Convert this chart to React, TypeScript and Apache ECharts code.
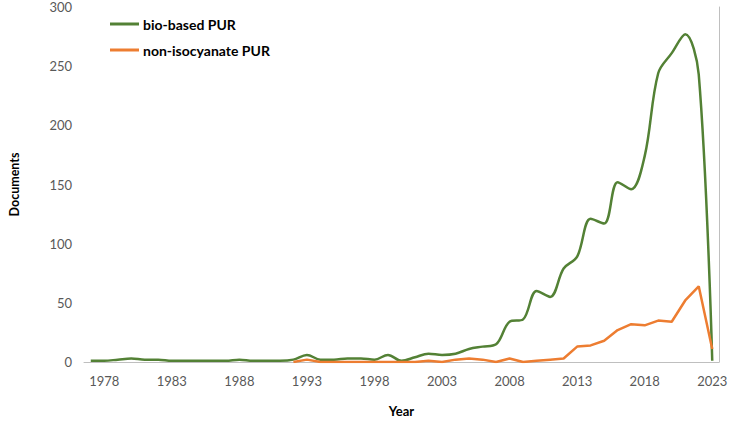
import React, { useEffect, useRef } from "react";
import * as echarts from "echarts";

const years: string[] = [
  "1977", "1978", "1979", "1980", "1981", "1982", "1983", "1984", "1985", "1986",
  "1987", "1988", "1989", "1990", "1991", "1992", "1993", "1994", "1995", "1996",
  "1997", "1998", "1999", "2000", "2001", "2002", "2003", "2004", "2005", "2006",
  "2007", "2008", "2009", "2010", "2011", "2012", "2013", "2014", "2015", "2016",
  "2017", "2018", "2019", "2020", "2021", "2022", "2023",
];

const bioBased: number[] = [
  1, 1, 2, 3, 2, 2, 1, 1, 1, 1,
  1, 2, 1, 1, 1, 2, 6, 2, 2, 3,
  3, 2, 6, 1, 4, 7, 6, 7, 11, 13,
  15, 34, 36, 60, 55, 79, 89, 121, 117, 152,
  146, 174, 244, 261, 277, 243, 1,
];

const nonIsocyanate: (number | null)[] = [
  null, null, null, null, null, null, null, null, null, null,
  null, null, null, null, null, 0, 2, 0, 0, 0,
  0, 0, 0, 0, 0, 1, 0, 2, 3, 2,
  0, 3, 0, 1, 2, 3, 13, 14, 18, 27,
  32, 31, 35, 34, 52, 64, 11,
];

const yTicks = { min: 0, max: 300, interval: 50 };

const seriesNames = ["bio-based PUR", "non-isocyanate PUR"];

const FONT = "Lato";

export default function App() {
  const ref = useRef<HTMLDivElement>(null);
  useEffect(() => {
    if (!ref.current) return;
    const chart = echarts.init(ref.current, undefined, { renderer: "svg" });
    chart.setOption({
      animation: false,
      backgroundColor: "#ffffff",
      textStyle: { fontFamily: FONT },
      grid: { left: 72, right: 12, top: 7, bottom: 57, containLabel: false },
      legend: {
        orient: "vertical",
        left: 110,
        top: 16,
        padding: 0,
        itemWidth: 29,
        itemHeight: 3,
        itemGap: 10,
        data: [
          { name: seriesNames[0], icon: "rect" },
          { name: seriesNames[1], icon: "rect" },
        ],
        textStyle: {
          fontFamily: FONT,
          fontWeight: "bold",
          fontSize: 14,
          color: "#000000",
          lineHeight: 16,
          padding: [0, 0, 0, -1],
        },
      },
      xAxis: {
        type: "category",
        data: years,
        boundaryGap: true,
        name: "Year",
        nameLocation: "middle",
        nameGap: 42,
        nameTextStyle: { fontFamily: FONT, fontWeight: "bold", fontSize: 13, color: "#000000" },
        axisLine: { show: true, lineStyle: { color: "#BFBFBF", width: 1 } },
        axisTick: { show: false },
        axisLabel: {
          interval: (index: number) => (index - 1) % 5 === 0,
          color: "#595959",
          fontSize: 13,
          fontFamily: FONT,
          margin: 12,
        },
        splitLine: { show: false },
      },
      yAxis: [
        {
          type: "value",
          min: yTicks.min,
          max: yTicks.max,
          interval: yTicks.interval,
          name: "Documents",
          nameLocation: "middle",
          nameGap: 63,
          nameTextStyle: { fontFamily: FONT, fontWeight: "bold", fontSize: 12.5, color: "#000000" },
          axisLine: { show: false },
          axisTick: { show: false },
          axisLabel: { color: "#595959", fontSize: 13, fontFamily: FONT, margin: 12 },
          splitLine: { show: false },
        },
        {
          type: "value",
          position: "right",
          min: yTicks.min,
          max: yTicks.max,
          interval: yTicks.interval,
          axisLine: { show: true, lineStyle: { color: "#BFBFBF", width: 1 } },
          axisTick: { show: false },
          axisLabel: { show: false },
          splitLine: { show: false },
        },
      ],
      series: [
        {
          name: seriesNames[0],
          type: "line",
          data: bioBased,
          smooth: 0.35,
          showSymbol: false,
          symbol: "none",
          color: "#538135",
          lineStyle: { color: "#538135", width: 2.5 },
          yAxisIndex: 0,
        },
        {
          name: seriesNames[1],
          type: "line",
          data: nonIsocyanate,
          smooth: false,
          showSymbol: false,
          symbol: "none",
          color: "#ED7D31",
          lineStyle: { color: "#ED7D31", width: 2.5 },
          yAxisIndex: 0,
        },
      ],
    });
    return () => chart.dispose();
  }, []);
  return <div ref={ref} style={{ width: 731, height: 422, position: "absolute", left: 0, top: 0 }} />;
}
